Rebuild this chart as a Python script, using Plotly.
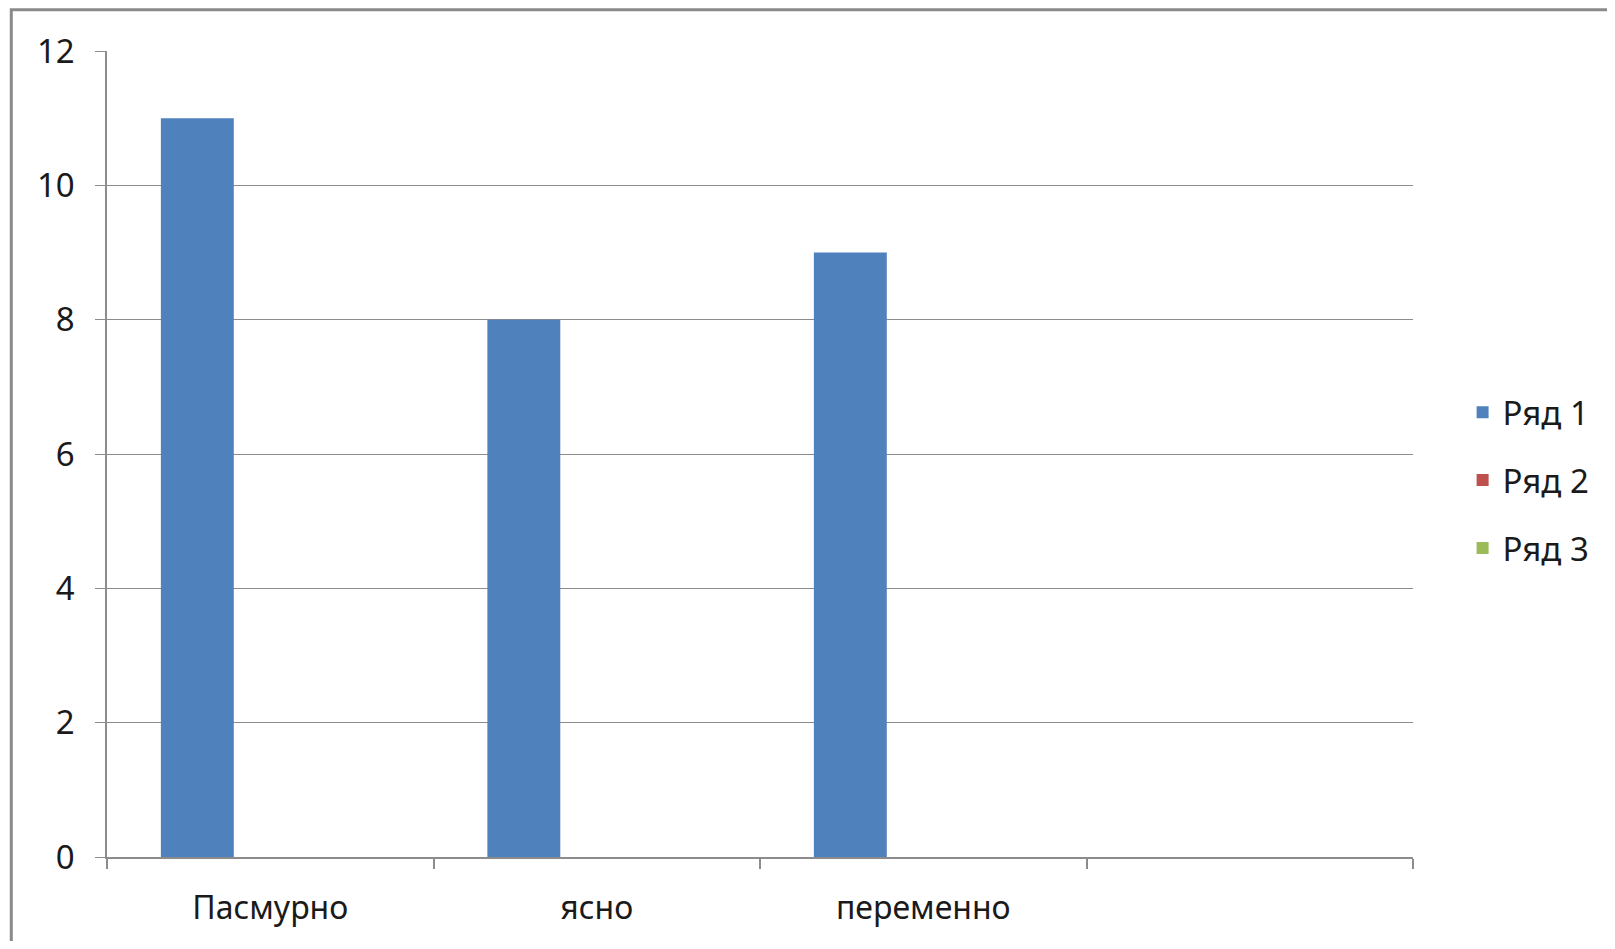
import plotly.graph_objects as go

categories = ["Пасмурно", "ясно", "переменно", " "]
series_names = ["Ряд 1", "Ряд 2", "Ряд 3"]
row1 = [11, 8, 9, None]
row2 = [0, 0, 0, None]
row3 = [0, 0, 0, None]
colors = ["#4F81BD", "#C0504D", "#9BBB59"]
y_ticks = [0, 2, 4, 6, 8, 10, 12]

FONT = "Noto Sans"
TXT = "#1a1a1a"
GRID = "#8c8c8c"

# figure drawn inside the 8px body margin of the page
W, H = 1599, 933
L, T = 99, 42.5
PW, PH = 1306, 806.5

fig = go.Figure()
for i, (name, vals) in enumerate(zip(series_names, [row1, row2, row3])):
    fig.add_trace(go.Bar(
        x=categories, y=vals, name=name,
        marker=dict(color=colors[i], line=dict(width=0)),
        legendgroup=name,
    ))

fig.update_layout(
    width=W, height=H,
    barmode="group", bargap=0.33, bargroupgap=0,
    paper_bgcolor="white", plot_bgcolor="white",
    margin=dict(l=L, r=W - L - PW, t=T, b=H - T - PH, autoexpand=False),
    font=dict(family=FONT, size=32, color=TXT),
    legend=dict(x=(1454.6 - L) / PW, y=1 - (472 - T) / PH,
                xanchor="left", yanchor="middle",
                font=dict(size=33, color=TXT), tracegroupgap=22,
                itemwidth=30, bgcolor="rgba(0,0,0,0)"),
    showlegend=True,
    xaxis=dict(type="category", range=[-0.5, 3.5], showgrid=False,
               showline=True, linecolor=GRID, linewidth=1.5,
               ticks="outside", tickson="boundaries", ticklen=10,
               tickcolor=GRID, tickwidth=1.5, ticklabelstandoff=22,
               tickfont=dict(size=32, color=TXT)),
    yaxis=dict(range=[0, 12], tickvals=y_ticks, showgrid=True,
               gridcolor=GRID, gridwidth=1.3, showline=True,
               linecolor=GRID, linewidth=1.5, ticks="outside", ticklen=10,
               tickcolor=GRID, tickwidth=1.3, ticklabelstandoff=14,
               zeroline=False, tickfont=dict(size=33, color=TXT)),
    shapes=[dict(type="rect", xref="paper", yref="paper",
                 x0=(3.3 - L) / PW, x1=1.5,
                 y0=-0.5, y1=1 + (T - 1.3) / PH,
                 line=dict(color="#8a8a8a", width=3),
                 fillcolor="rgba(0,0,0,0)", layer="below")],
)

fig.write_html("out.html")
